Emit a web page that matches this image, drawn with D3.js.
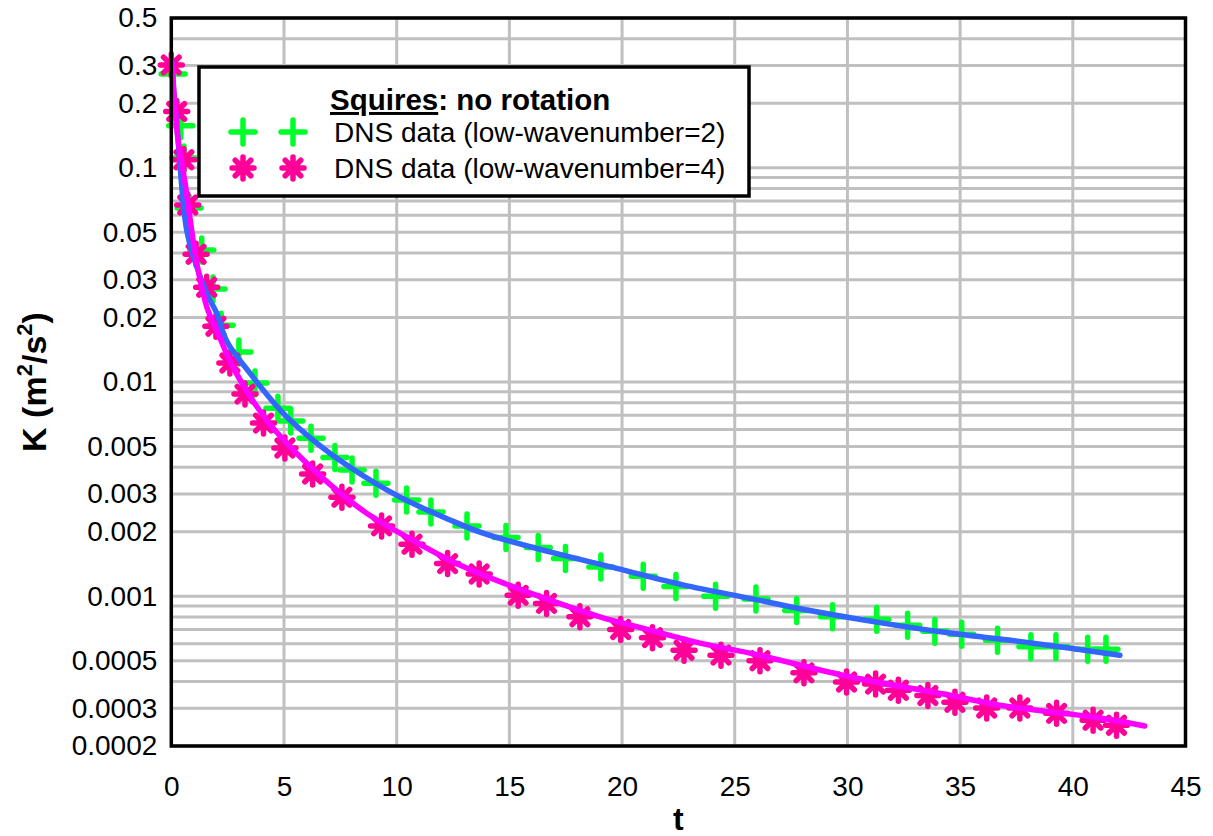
<!DOCTYPE html>
<html>
<head>
<meta charset="utf-8">
<script src="https://cdn.jsdelivr.net/npm/d3@7"></script>
<style>
  html, body { margin: 0; padding: 0; background: #fff; }
  svg text { font-family: "Liberation Sans", Arial, sans-serif; fill: #000; }
</style>
</head>
<body>
<div id="chart"></div>
<script>
// DNS data, low-wavenumber=2 (green plus)
const tLow2 = [0.08, 0.42, 0.56, 0.79, 1.35, 1.85, 2.21, 3.0, 3.71, 4.73, 5.3, 6.2, 7.26, 8.02, 9.08,
  10.44, 11.52, 13.12, 14.85, 16.28, 17.49, 19.06, 20.94, 22.39, 24.15, 25.94, 27.75, 29.34,
  31.3, 32.67, 33.88, 35.07, 36.66, 38.14, 39.25, 40.66, 41.47];
const kLow2 = [0.274, 0.157, 0.111, 0.0649, 0.0413, 0.0272, 0.0184, 0.0138, 0.00988, 0.00755, 0.00657,
  0.00547, 0.00444, 0.00388, 0.00337, 0.00281, 0.00247, 0.00213, 0.00188, 0.00169, 0.0015, 0.00137,
  0.00124, 0.00111, 0.001, 0.000971, 0.000859, 0.000802, 0.00078, 0.000733, 0.000687, 0.000665,
  0.000624, 0.000581, 0.000581, 0.000566, 0.000566];

// DNS data, low-wavenumber=4 (pink asterisk)
const tLow4 = [0.0, 0.24, 0.56, 0.73, 1.1, 1.57, 1.98, 2.6, 3.27, 4.09, 5.04, 6.27, 7.57, 9.33, 10.68,
  12.26, 13.66, 15.39, 16.65, 18.13, 19.94, 21.35, 22.75, 24.39, 26.12, 28.07, 29.96, 31.25,
  32.26, 33.57, 34.77, 36.18, 37.65, 39.28, 40.9, 41.94];
const kLow4 = [0.302, 0.183, 0.109, 0.067, 0.0395, 0.0277, 0.0182, 0.01226, 0.00878, 0.00643, 0.00492,
  0.00372, 0.0029, 0.00213, 0.00175, 0.00142, 0.00127, 0.00101, 0.000926, 0.000802, 0.0007,
  0.000641, 0.00056, 0.000531, 0.0005, 0.000439, 0.000398, 0.000389, 0.000364, 0.000344,
  0.00032, 0.000301, 0.000301, 0.000284, 0.000264, 0.00025];

// Squires fit curves
const tFit2 = [0.03, 0.12, 0.3, 0.68, 1.13, 1.6, 2.01, 2.46, 3.49, 4.96, 6.45, 7.93, 10.15, 12.37, 13.83,
  16.8, 19.76, 22.7, 25.67, 28.63, 31.57, 34.55, 38.23, 42.09];
const kFit2 = [0.31, 0.22, 0.135, 0.0515, 0.0345, 0.0255, 0.021, 0.0155, 0.011, 0.00716, 0.00519, 0.004,
  0.0029, 0.00227, 0.00197, 0.00161, 0.00135, 0.00113, 0.000977, 0.000846, 0.000749, 0.000673,
  0.000604, 0.00053];
const tFit4 = [0.03, 0.12, 0.3, 0.61, 1.13, 1.57, 2.07, 2.74, 4.23, 5.71, 7.17, 8.67, 10.15, 12.37, 14.58,
  16.8, 19.02, 21.24, 23.46, 25.67, 30.11, 34.55, 36.76, 41.2, 43.19];
const kFit4 = [0.31, 0.22, 0.135, 0.0849, 0.0359, 0.0225, 0.0169, 0.0117, 0.00664, 0.00448, 0.00324,
  0.00244, 0.00197, 0.00147, 0.00117, 0.000959, 0.000802, 0.000695, 0.000604, 0.000543, 0.000421,
  0.000345, 0.00031, 0.00027, 0.000248];

const xTicks = [0, 5, 10, 15, 20, 25, 30, 35, 40, 45];
const yTicks = [0.5, 0.3, 0.2, 0.1, 0.05, 0.03, 0.02, 0.01, 0.005, 0.003, 0.002, 0.001, 0.0005, 0.0003, 0.0002];
const yGrid = [];
[0.0001, 0.001, 0.01, 0.1].forEach((p) => {
  for (let k = 1; k <= 9; k++) {
    const v = +(k * p).toPrecision(3);
    if (v >= 0.0002 && v <= 0.5) yGrid.push(v);
  }
});

const width = 1213;
const height = 836;
const plotLeft = 171.3, plotRight = 1185.5, plotTop = 18, plotBottom = 746;

const svg = d3.select("#chart").append("svg")
  .attr("width", width)
  .attr("height", height);

const x = d3.scaleLinear().domain([0, 45]).range([plotLeft, plotRight]);
const y = d3.scaleLog().domain([0.0002, 0.5]).range([plotBottom, plotTop]);

// grid
const grid = svg.append("g").attr("stroke", "#c0c0c0").attr("stroke-width", 3);
grid.selectAll("line.h").data(yGrid).join("line")
  .attr("class", "h")
  .attr("x1", plotLeft).attr("x2", plotRight)
  .attr("y1", (d) => y(d)).attr("y2", (d) => y(d));
grid.selectAll("line.v").data(xTicks.slice(1, -1)).join("line")
  .attr("class", "v")
  .attr("y1", plotTop).attr("y2", plotBottom)
  .attr("x1", (d) => x(d)).attr("x2", (d) => x(d));

// axes (labels only, no tick marks)
const xAxis = svg.append("g")
  .attr("transform", `translate(0,${plotBottom})`)
  .call(d3.axisBottom(x).tickValues(xTicks).tickSize(0).tickPadding(30).tickFormat(d3.format("d")));
xAxis.select(".domain").remove();
xAxis.selectAll("text").attr("font-size", 28).attr("font-family", "Liberation Sans, Arial, sans-serif").attr("fill", "#000");

const yAxis = svg.append("g")
  .attr("transform", `translate(${plotLeft},0)`)
  .call(d3.axisLeft(y).tickValues(yTicks).tickSize(0).tickPadding(14).tickFormat((d) => String(d)));
yAxis.select(".domain").remove();
yAxis.selectAll("text").attr("font-size", 28).attr("font-family", "Liberation Sans, Arial, sans-serif").attr("fill", "#000");

// markers
function plusPath(s) {
  return `M${-s},0L${s},0M0,${-s}L0,${s}`;
}
function starPath(s) {
  const d = s * Math.SQRT1_2;
  return `M${-s},0L${s},0M0,${-s}L0,${s}M${-d},${-d}L${d},${d}M${-d},${d}L${d},${-d}`;
}

const low2 = tLow2.map((t, i) => [t, kLow2[i]]);
const low4 = tLow4.map((t, i) => [t, kLow4[i]]);
const fit2 = tFit2.map((t, i) => [t, kFit2[i]]);
const fit4 = tFit4.map((t, i) => [t, kFit4[i]]);

svg.append("g").selectAll("path").data(low2).join("path")
  .attr("transform", (d) => `translate(${x(d[0])},${y(d[1])})`)
  .attr("d", plusPath(12))
  .attr("stroke", "#00ff2a").attr("stroke-width", 5.5).attr("stroke-linecap", "round").attr("fill", "none");

svg.append("g").selectAll("path").data(low4).join("path")
  .attr("transform", (d) => `translate(${x(d[0])},${y(d[1])})`)
  .attr("d", starPath(11))
  .attr("stroke", "#ff0099").attr("stroke-width", 5.5).attr("stroke-linecap", "round").attr("fill", "none");

const line = d3.line().x((d) => x(d[0])).y((d) => y(d[1])).curve(d3.curveCatmullRom.alpha(0.5));

svg.append("path").datum(fit2)
  .attr("d", line)
  .attr("fill", "none").attr("stroke", "#3366ff").attr("stroke-width", 5.5).attr("stroke-linecap", "round");
svg.append("path").datum(fit4)
  .attr("d", line)
  .attr("fill", "none").attr("stroke", "#ff00ff").attr("stroke-width", 5.5).attr("stroke-linecap", "round");

// frame
svg.append("rect")
  .attr("x", plotLeft).attr("y", plotTop)
  .attr("width", plotRight - plotLeft).attr("height", plotBottom - plotTop)
  .attr("fill", "none").attr("stroke", "#000").attr("stroke-width", 3.5);

// legend
const lg = svg.append("g");
lg.append("rect")
  .attr("x", 199).attr("y", 67).attr("width", 550).attr("height", 129)
  .attr("fill", "#fff").attr("stroke", "#000").attr("stroke-width", 3.5);
const title = lg.append("text").attr("x", 330).attr("y", 110).attr("font-size", 29.5).attr("font-weight", "bold");
title.append("tspan").attr("text-decoration", "underline").text("Squires");
title.append("tspan").text(": no rotation");
lg.append("text").attr("x", 334).attr("y", 142).attr("font-size", 28).text("DNS data (low-wavenumber=2)");
lg.append("text").attr("x", 334).attr("y", 178).attr("font-size", 28).text("DNS data (low-wavenumber=4)");
[243, 293].forEach((cx) => {
  lg.append("path").attr("transform", `translate(${cx},132)`).attr("d", plusPath(12))
    .attr("stroke", "#00ff2a").attr("stroke-width", 5.5).attr("stroke-linecap", "round");
  lg.append("path").attr("transform", `translate(${cx},168)`).attr("d", starPath(11))
    .attr("stroke", "#ff0099").attr("stroke-width", 5.5).attr("stroke-linecap", "round");
});

// axis titles
svg.append("text")
  .attr("x", x(22.5)).attr("y", 830)
  .attr("text-anchor", "middle").attr("font-size", 32).attr("font-weight", "bold")
  .text("t");

const yt = svg.append("text")
  .attr("transform", `translate(46,${(plotTop + plotBottom) / 2}) rotate(-90)`)
  .attr("text-anchor", "middle").attr("font-size", 34).attr("font-weight", "bold");
yt.append("tspan").text("K (m");
yt.append("tspan").attr("font-size", 22).attr("dy", -14).text("2");
yt.append("tspan").attr("dy", 14).text("/s");
yt.append("tspan").attr("font-size", 22).attr("dy", -14).text("2");
yt.append("tspan").attr("dy", 14).text(")");
</script>
</body>
</html>
